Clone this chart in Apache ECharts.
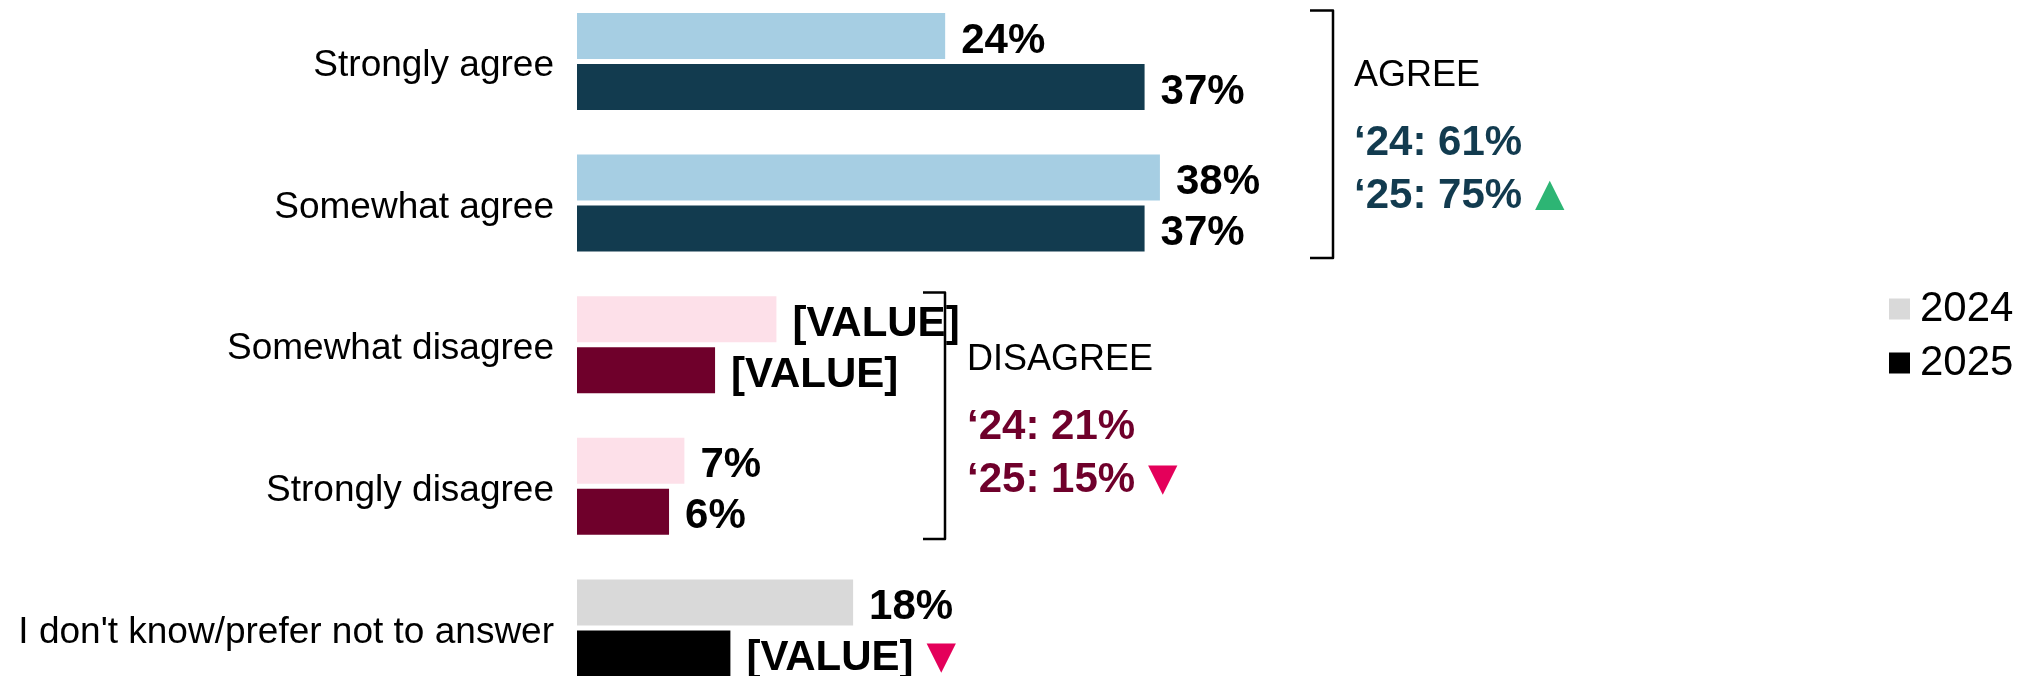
<!DOCTYPE html>
<html>
<head>
<meta charset="utf-8">
<title>Agree / disagree 2024 vs 2025</title>
<script src="https://cdn.jsdelivr.net/npm/echarts@6/dist/echarts.min.js"></script>
<style>
  html, body { margin: 0; padding: 0; background: #fff; }
  #chart { width: 2028px; height: 676px; }
</style>
</head>
<body>
<div id="chart"></div>
<script>
// data
const categories = [
  'Strongly agree',
  'Somewhat agree',
  'Somewhat disagree',
  'Strongly disagree',
  "I don't know/prefer not to answer",
]
const years = ['2024', '2025']
const values2024 = [24, 38, 13, 7, 18]
const values2025 = [37, 37, 9, 6, 10]
// some labels are placeholders in the source
const labels2024 = ['24%', '38%', '[VALUE]', '7%', '18%']
const labels2025 = ['37%', '37%', '[VALUE]', '6%', '[VALUE]']
const trend2025 = ['', '', '', '', 'down']

const groups = ['AGREE', 'DISAGREE']
const groupTotals2024 = ['61%', '21%']
const groupTotals2025 = ['75%', '15%']
const groupTrend = ['up', 'down']

// styles
const colors2024 = ['#A6CEE3', '#A6CEE3', '#FDE0E9', '#FDE0E9', '#D9D9D9']
const colors2025 = ['#123B4F', '#123B4F', '#6F002B', '#6F002B', '#000000']
const groupColors = ['#123B4F', '#6F002B']
const upColor = '#2DB574'
const downColor = '#E4005A'
const FONT = '"Liberation Sans", Arial, sans-serif'

const chart = echarts.init(document.getElementById('chart'))

function barData(values, colors) {
  return values.map((v, i) => ({ value: v, itemStyle: { color: colors[i] } }))
}

const valueLabel = (texts, trends) => ({
  show: true,
  position: 'right',
  distance: 16,
  formatter: (p) => {
    const t = texts[p.dataIndex]
    const tr = trends ? trends[p.dataIndex] : ''
    if (tr === 'down') return t + '{down|▼}'
    if (tr === 'up') return t + '{up|▲}'
    return t
  },
  fontFamily: FONT,
  fontSize: 42,
  fontWeight: 'bold',
  color: '#000',
  lineHeight: 46,
  padding: [10, 0, 0, 0],
  rich: {
    down: { color: downColor, fontSize: 50, lineHeight: 46, fontFamily: FONT, padding: [0, 0, 0, 3] },
    up: { color: upColor, fontSize: 50, lineHeight: 46, fontFamily: FONT, padding: [0, 0, 0, 3] },
  },
})

function bracket(x0, x1, y0, y1) {
  return {
    type: 'polyline',
    shape: { points: [[x0, y0], [x1, y0], [x1, y1], [x0, y1]] },
    style: { fill: null, stroke: '#000', lineWidth: 2.5, lineJoin: 'round' },
    silent: true,
  }
}

function groupText(i, x, yTop) {
  const mark = groupTrend[i] === 'up' ? '{up|▲}' : '{down|▼}'
  return [
    {
      type: 'text',
      x: x,
      y: yTop + 2,
      style: {
        text: groups[i],
        font: '36px ' + FONT,
        fill: '#000',
        verticalAlign: 'middle',
      },
      silent: true,
    },
    {
      type: 'text',
      x: x,
      y: yTop + 70,
      style: {
        text: '\u201824: ' + groupTotals2024[i],
        font: 'bold 42px ' + FONT,
        fill: groupColors[i],
        verticalAlign: 'middle',
      },
      silent: true,
    },
    {
      type: 'text',
      x: x,
      y: yTop + 122.5,
      style: {
        text: '\u201825: ' + groupTotals2025[i] + mark,
        font: 'bold 42px ' + FONT,
        fill: groupColors[i],
        verticalAlign: 'middle',
        lineHeight: 46,
        rich: {
          up: { fill: upColor, font: '50px ' + FONT, lineHeight: 46, padding: [0, 0, 0, 3] },
          down: { fill: downColor, font: '50px ' + FONT, lineHeight: 46, padding: [0, 0, 0, 3] },
        },
      },
      silent: true,
    },
  ]
}

const option = {
  animation: false,
  backgroundColor: '#fff',
  grid: { left: 577, top: -9.3, width: 1227.2, height: 708, outerBoundsMode: 'none', containLabel: false },
  legend: {
    data: years,
    orient: 'vertical',
    left: 1884,
    top: 283,
    icon: 'rect',
    itemWidth: 21,
    itemHeight: 21,
    itemGap: 12,
    selectedMode: false,
    textStyle: { fontFamily: FONT, fontSize: 42, color: '#000', padding: [0, 0, 0, 5] },
  },
  xAxis: { type: 'value', min: 0, max: 80, show: false },
  yAxis: {
    type: 'category',
    data: categories,
    inverse: true,
    axisLine: { show: false },
    axisTick: { show: false },
    splitLine: { show: false },
    axisLabel: {
      fontFamily: FONT,
      fontSize: 37,
      color: '#000',
      margin: 23,
      formatter: (v) => '{c|' + v + '}',
      rich: { c: { fontFamily: FONT, fontSize: 37, color: '#000', padding: [9, 0, 0, 0] } },
    },
  },
  series: [
    {
      name: years[0],
      type: 'bar',
      barWidth: 46,
      barGap: '10.9%',
      itemStyle: { color: '#D9D9D9' },
      data: barData(values2024, colors2024),
      label: valueLabel(labels2024, null),
    },
    {
      name: years[1],
      type: 'bar',
      barWidth: 46,
      itemStyle: { color: '#000000' },
      data: barData(values2025, colors2025),
      label: valueLabel(labels2025, trend2025),
    },
  ],
  graphic: [
    bracket(1310, 1333, 10.5, 258),
    bracket(923, 945, 292.5, 539),
    ...groupText(0, 1354, 73.8),
    ...groupText(1, 967, 357.8),
  ],
}

chart.setOption(option)
</script>
</body>
</html>
